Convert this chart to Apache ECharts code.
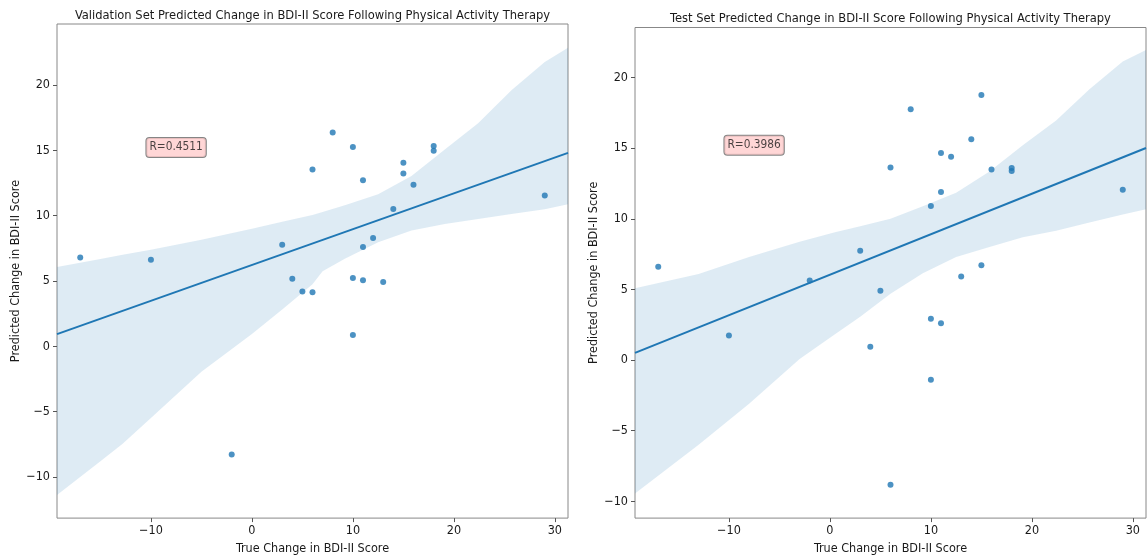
<!DOCTYPE html>
<html><head><meta charset="utf-8">
<script src="https://cdn.jsdelivr.net/npm/echarts@6/dist/echarts.min.js"></script>
<style>html,body{margin:0;padding:0;background:#fff}#c{width:1148px;height:560px}</style>
</head><body><div id="c"></div>
<script>
// ---- data ----
const titles = ['Validation Set Predicted Change in BDI-II Score Following Physical Activity Therapy',
                'Test Set Predicted Change in BDI-II Score Following Physical Activity Therapy'];
const xName = 'True Change in BDI-II Score';
const yName = 'Predicted Change in BDI-II Score';
const xTicks = [-10, 0, 10, 20, 30];
const yTicks = [-10, -5, 0, 5, 10, 15, 20];
const rLabels = ['R=0.4511', 'R=0.3986'];
const annPos = [-10, 15];

const valTrue = [-17,-10,-2,3,4,5,6,6,8,10,10,10,11,11,11,12,13,14,15,15,16,18,18,29];
const valPred = [6.79,6.62,-8.29,7.78,5.17,4.2,4.13,13.53,16.37,15.26,5.22,0.87,12.72,7.6,5.05,8.3,4.93,10.51,14.05,13.23,12.37,15.34,14.98,11.55];
const testTrue = [-17,-10,-2,3,4,5,6,6,8,10,10,10,11,11,11,12,13,14,15,15,16,18,18,29];
const testPred = [6.61,1.74,5.63,7.74,0.95,4.91,13.63,-8.82,17.77,10.91,2.93,-1.40,14.67,11.9,2.6,14.4,5.91,15.63,18.77,6.72,13.5,13.6,13.38,12.06];

// regression lines (end points read at the axis edges)
const valLineX = [-19.3, 31.3], valLineY = [0.93, 14.81];
const testLineX = [-19.3, 31.3], testLineY = [0.51, 15.02];

// confidence bands (upper / lower edges)
const valBandX = [-19.3,-15,-12.8,-10,-5,0,3,6,7,9.2,12.5,15.8,19.1,22.4,25.7,29,31.3];
const valBandUp = [6.07,6.68,7.0,7.39,8.15,9.0,9.53,10.05,10.28,10.8,11.64,13.03,15.06,17.08,19.6,21.77,22.86];
const valBandLo = [-11.39,-8.8,-7.47,-5.49,-1.95,0.93,2.82,4.75,5.75,6.7,7.97,8.86,9.36,9.74,10.12,10.5,10.88];
const testBandX = [-19.3,-13,-8,-3,0.5,3,6,9.2,12.5,15.8,19.1,22.4,25.7,29,31.3];
const testBandUp = [5.09,6.1,7.3,8.37,9.05,9.48,10.0,10.9,11.84,13.35,15.21,16.96,19.17,21.14,21.96];
const testBandLo = [-9.44,-6.0,-3.09,0.07,1.83,3.06,4.7,6.14,7.3,8.0,8.7,9.16,9.75,10.3,10.68];

const xRange = [-19.3, 31.3];
const yRanges = [[-13.16, 24.68], [-11.19, 23.55]];

const FONT = '"DejaVu Sans Condensed", "DejaVu Sans", sans-serif';
const BLUE = '#1f77b4';
const TXT = '#1a1a1a';
const toPairs = (xs, ys) => xs.map((x, i) => [x, ys[i]]);
const minus = v => String(v).replace('-', '\u2212');

const grids = [
  {left: 57, top: 24, width: 511, height: 498},
  {left: 635, top: 27.5, width: 511, height: 498}
];

function xAxis(i, gap) {
  return {type: 'value', gridIndex: i, min: xRange[0], max: xRange[1],
    name: xName, nameLocation: 'middle', nameGap: gap,
    nameTextStyle: {fontFamily: FONT, fontSize: 12.5, color: TXT},
    splitLine: {show: false}, axisLine: {show: false, onZero: false},
    axisTick: {show: true, length: 4, customValues: xTicks, lineStyle: {color: '#555'}},
    axisLabel: {customValues: xTicks, formatter: minus, margin: 6, fontFamily: FONT, fontSize: 12.5, color: TXT}};
}
function yAxis(i, gap) {
  return {type: 'value', gridIndex: i, min: yRanges[i][0], max: yRanges[i][1],
    name: yName, nameLocation: 'middle', nameGap: gap,
    nameTextStyle: {fontFamily: FONT, fontSize: 12.5, color: TXT},
    splitLine: {show: false}, axisLine: {show: false, onZero: false},
    axisTick: {show: true, length: 4, customValues: yTicks, lineStyle: {color: '#555'}},
    axisLabel: {customValues: yTicks, formatter: minus, margin: 7, fontFamily: FONT, fontSize: 12.5, color: TXT}};
}
function band(i, bx, bu, bl) {
  return {type: 'custom', xAxisIndex: i, yAxisIndex: i, silent: true, z: 1, data: [[0, 0]],
    renderItem: function (params, api) {
      const pts = [];
      for (let k = 0; k < bx.length; k++) pts.push(api.coord([bx[k], bu[k]]));
      for (let k = bx.length - 1; k >= 0; k--) pts.push(api.coord([bx[k], bl[k]]));
      return {type: 'polygon', shape: {points: pts}, style: {fill: 'rgba(31,119,180,0.15)'}};
    }};
}
function line(i, xs, ys) {
  return {type: 'line', xAxisIndex: i, yAxisIndex: i, data: toPairs(xs, ys), symbol: 'none', silent: true, z: 3,
    lineStyle: {color: BLUE, width: 2}};
}
function scatter(i, xs, ys) {
  return {type: 'scatter', xAxisIndex: i, yAxisIndex: i, data: toPairs(xs, ys), symbolSize: 6, silent: true, z: 4,
    itemStyle: {color: BLUE, opacity: 0.8}};
}
function ann(i) {
  return {type: 'scatter', xAxisIndex: i, yAxisIndex: i, data: [annPos], symbolSize: 0, silent: true, z: 10,
    label: {show: true, formatter: rLabels[i], position: [-4.5, -3], align: 'left', verticalAlign: 'middle',
      backgroundColor: '#ffcccc', borderColor: '#666', borderWidth: 1, borderRadius: 3, padding: [3, 3, 2, 3],
      fontFamily: FONT, fontSize: 11.8, lineHeight: 14, color: TXT}};
}

const chart = echarts.init(document.getElementById('c'), null, {renderer: 'canvas'});
chart.setOption({
  animation: false,
  backgroundColor: '#fff',
  title: [
    {text: titles[0], left: 312.5, top: 9.5, textAlign: 'center', padding: 0,
      textStyle: {fontFamily: FONT, fontSize: 12.8, fontWeight: 'normal', color: TXT}},
    {text: titles[1], left: 890.5, top: 12, textAlign: 'center', padding: 0,
      textStyle: {fontFamily: FONT, fontSize: 12.8, fontWeight: 'normal', color: TXT}}
  ],
  grid: grids.map(g => Object.assign({show: true, borderColor: '#888', borderWidth: 1, backgroundColor: 'transparent'}, g)),
  xAxis: [xAxis(0, 20), xAxis(1, 19.5)],
  yAxis: [yAxis(0, 34), yAxis(1, 33)],
  series: [
    band(0, valBandX, valBandUp, valBandLo), line(0, valLineX, valLineY), scatter(0, valTrue, valPred), ann(0),
    band(1, testBandX, testBandUp, testBandLo), line(1, testLineX, testLineY), scatter(1, testTrue, testPred), ann(1)
  ]
});
</script></body></html>
